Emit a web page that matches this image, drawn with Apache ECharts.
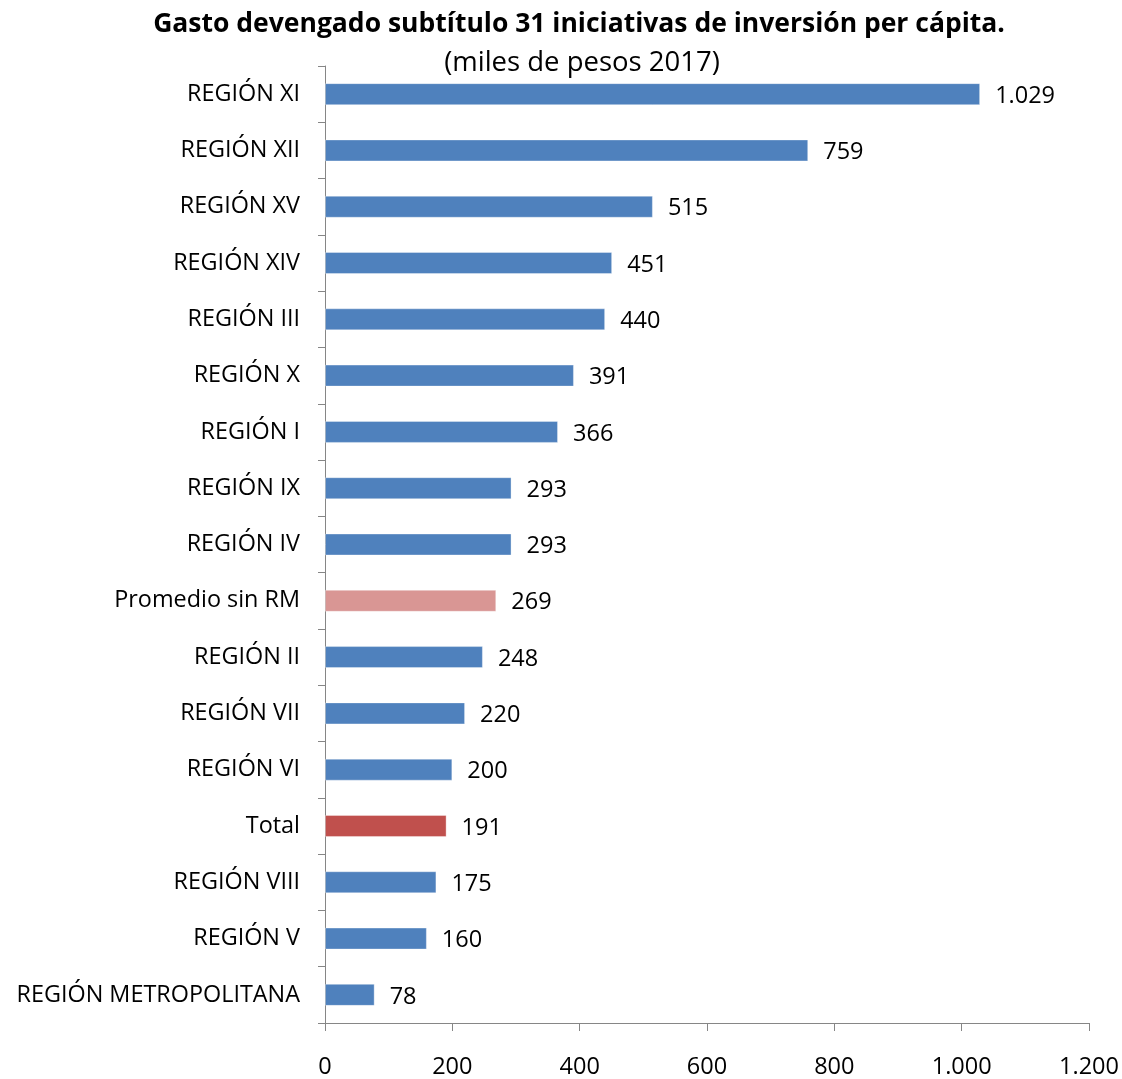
<!DOCTYPE html>
<html>
<head>
<meta charset="utf-8">
<title>Gasto devengado subtítulo 31</title>
<script src="https://cdn.jsdelivr.net/npm/echarts@6/dist/echarts.min.js"></script>
<style>
  html, body { margin: 0; padding: 0; background: #fff; }
  #chart { width: 1122px; height: 1079px; }
</style>
</head>
<body>
<div id="chart"></div>
<script>
// categorias de arriba hacia abajo
const categorias = [
  'REGIÓN XI', 'REGIÓN XII', 'REGIÓN XV', 'REGIÓN XIV', 'REGIÓN III',
  'REGIÓN X', 'REGIÓN I', 'REGIÓN IX', 'REGIÓN IV', 'Promedio sin RM',
  'REGIÓN II', 'REGIÓN VII', 'REGIÓN VI', 'Total', 'REGIÓN VIII',
  'REGIÓN V', 'REGIÓN METROPOLITANA'
]
const gastoPerCapita = [
  1029, 759, 515, 451, 440,
  391, 366, 293, 293, 269,
  248, 220, 200, 191, 175,
  160, 78
]
const ejeX = [0, 200, 400, 600, 800, 1000, 1200]

const FONT = 'Open Sans'

// separador de miles con punto
function miles (v) {
  return String(v).replace(/\B(?=(\d{3})+(?!\d))/g, '.')
}

function colorBarra (nombre) {
  if (nombre === 'Total') return '#C0504D'
  if (nombre === 'Promedio sin RM') return '#D99694'
  return '#4F81BD'
}

const chart = echarts.init(document.getElementById('chart'))

chart.setOption({
  backgroundColor: '#fff',
  animation: false,
  title: [
    {
      text: 'Gasto devengado subtítulo 31 iniciativas de inversión per cápita.',
      left: 574,
      top: 6,
      textAlign: 'center',
      textStyle: { fontFamily: FONT, fontWeight: 'bold', fontSize: 26.5, color: '#000' }
    },
    {
      text: '(miles de pesos 2017)',
      left: 577,
      top: 44,
      textAlign: 'center',
      textStyle: { fontFamily: FONT, fontWeight: 'normal', fontSize: 27.5, color: '#000' }
    }
  ],
  grid: {
    left: 325,
    right: 33,
    top: 66,
    bottom: 54,
    containLabel: false
  },
  xAxis: {
    type: 'value',
    min: ejeX[0],
    max: ejeX[ejeX.length - 1],
    interval: 200,
    axisLine: { show: true, lineStyle: { color: '#868686', width: 1 } },
    axisTick: { show: true, length: 8, lineStyle: { color: '#868686' } },
    splitLine: { show: false },
    axisLabel: {
      margin: 32,
      fontFamily: FONT,
      fontSize: 23.5,
      color: '#000',
      formatter: (v) => miles(v)
    }
  },
  yAxis: {
    type: 'category',
    inverse: true,
    data: categorias,
    axisLine: { show: true, lineStyle: { color: '#868686', width: 1 } },
    axisTick: { show: true, length: 7, lineStyle: { color: '#868686' } },
    axisLabel: {
      margin: 25,
      fontFamily: FONT,
      fontSize: 23.4,
      color: '#000'
    }
  },
  series: [{
    type: 'bar',
    data: gastoPerCapita,
    barWidth: 22,
    itemStyle: {
      color: (p) => colorBarra(p.name),
      borderColor: 'rgba(255,255,255,0.35)',
      borderWidth: 1
    },
    label: {
      show: true,
      position: 'right',
      distance: 15,
      offset: [0, 2],
      fontFamily: FONT,
      fontSize: 23.5,
      color: '#000',
      formatter: (p) => miles(p.value)
    }
  }]
})
</script>
</body>
</html>
